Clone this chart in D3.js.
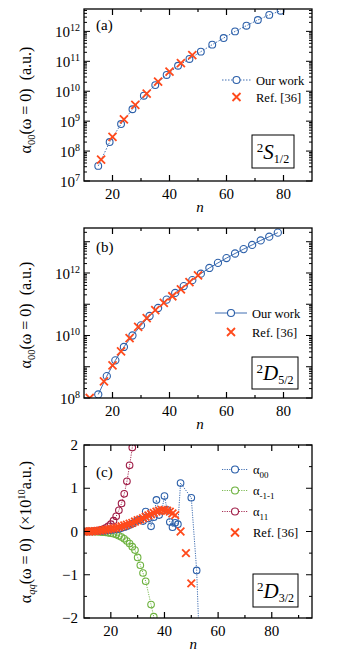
<!DOCTYPE html>
<html>
<head>
<meta charset="utf-8">
<script src="https://cdn.jsdelivr.net/npm/d3@7/dist/d3.min.js"></script>
<style>
body{margin:0;background:#fff;}
svg{display:block;font-family:"Liberation Serif","DejaVu Serif",serif;}
</style>
</head>
<body>
<svg width="349" height="669"></svg>
<script>
// ---- panel (a): 2S1/2
var nA = [15,19,23,27,31,35,39,43,47,51,55,59,63,67,71,75,79];
var alphaA = [3.2e7,2.0e8,8.0e8,2.5e9,7.1e9,1.6e10,3.5e10,7.1e10,1.2e11,2.1e11,3.6e11,6.0e11,1.0e12,1.55e12,2.4e12,3.55e12,4.9e12];
var nRefA = [16,20,24,28,32,36,40,44,48];
var refA = [5.2e7,3.0e8,1.15e9,3.5e9,8.3e9,2.1e10,4.5e10,8.7e10,1.6e11];

// ---- panel (b): 2D5/2
var nB = [15,18,21,24,27,30,33,36,39,42,45,48,51,54,57,60,63,66,69,72,75,78];
var alphaB = [1.3e8,5.0e8,1.6e9,4.3e9,1.0e10,2.1e10,4.2e10,7.6e10,1.4e11,2.3e11,3.8e11,5.9e11,9.5e11,1.45e12,2.1e12,3.0e12,4.2e12,5.8e12,7.9e12,1.1e13,1.45e13,1.95e13];
var nRefB = [12,17,20,23,26,29,32,35,38,41,44,47,50];
var refB = [1.0e8,3.4e8,1.1e9,3.1e9,8.3e9,1.9e10,3.6e10,6.5e10,1.1e11,1.8e11,3.0e11,5.1e11,8.4e11];

// ---- panel (c): 2D3/2, units of 1e10 a.u.
var nC00 = [10,11,12,13,14,15,16,17,18,19,20,21,22,23,24,25,26,27,28,29,30,31,32,33,34,35,36,37,38,39,40,41,42,43,44,45,46,50,52,53];
var alpha00C = [0,0,0,0,0.005,0.01,0.01,0.015,0.02,0.03,0.035,0.04,0.05,0.06,0.08,0.1,0.12,0.15,0.18,0.22,0.26,0.28,0.24,0.46,0.3,0.12,0.33,0.73,0.38,0.48,0.82,0.5,0.22,0.1,0.2,0.17,1.12,0.78,-0.9,-2.6];
var nCm = [10,11,12,13,14,15,16,17,18,19,20,21,22,23,24,25,26,27,28,29,30,31,32,33,35,36,37];
var alphaM1C = [0,0,0,0,-0.003,-0.005,-0.01,-0.015,-0.02,-0.03,-0.04,-0.05,-0.07,-0.1,-0.13,-0.17,-0.22,-0.28,-0.35,-0.43,-0.6,-0.78,-0.96,-1.15,-1.69,-1.97,-2.6];
var nCp = [10,11,12,13,14,15,16,17,18,19,20,21,22,23,24,25,26,27,28,29];
var alpha11C = [0,0,0,0,0.01,0.02,0.03,0.05,0.08,0.12,0.17,0.25,0.35,0.49,0.65,0.87,1.16,1.53,1.94,2.5];
var nRefC = [10,11,12,13,14,15,16,17,18,19,20,21,22,23,24,25,26,27,28,29,30,31,32,33,34,35,36,37,38,39,40,41,42,43,44,46,48,50];
var refC = [0,0,0,0.005,0.01,0.015,0.02,0.03,0.04,0.05,0.06,0.07,0.08,0.1,0.12,0.14,0.16,0.18,0.2,0.23,0.26,0.28,0.31,0.34,0.37,0.4,0.43,0.46,0.48,0.5,0.5,0.48,0.46,0.42,0.38,0.0,-0.5,-1.2];

var xTicksMajor = [20,40,60,80];
var xTicksMinor = [30,50,70];
var linTicks = [-2,-1,0,1,2];

var BLUE = "#2b5fa9", RED = "#ff4a1c", GREEN = "#6db23f", MAROON = "#9e1a44";

var svg = d3.select("svg");
var L = 84, R = 312;

var supTen = function(sel, p){
	sel.text("10");
	sel.append("tspan").attr("dy",-6).attr("font-size","10px").text(p);
};

var frame = function(g, x, y, top, bottom, xMinor){
	g.append("rect").attr("x",L).attr("y",top).attr("width",R-L).attr("height",bottom-top)
		.attr("fill","none").attr("stroke","#000").attr("stroke-width",1.3);
	xTicksMajor.forEach(function(t){
		g.append("line").attr("x1",x(t)).attr("x2",x(t)).attr("y1",bottom).attr("y2",bottom-6).attr("stroke","#000").attr("stroke-width",1.2);
		g.append("line").attr("x1",x(t)).attr("x2",x(t)).attr("y1",top).attr("y2",top+6).attr("stroke","#000").attr("stroke-width",1.2);
		g.append("text").attr("x",x(t)).attr("y",bottom+18).attr("text-anchor","middle").attr("font-size","15px").text(t);
	});
	xMinor.forEach(function(t){
		g.append("line").attr("x1",x(t)).attr("x2",x(t)).attr("y1",bottom).attr("y2",bottom-3).attr("stroke","#000").attr("stroke-width",1.2);
		g.append("line").attr("x1",x(t)).attr("x2",x(t)).attr("y1",top).attr("y2",top+3).attr("stroke","#000").attr("stroke-width",1.2);
	});
	g.append("text").attr("x",x(50)+2).attr("y",bottom+31).attr("text-anchor","middle")
		.attr("font-size","15px").attr("font-style","italic").text("n");
};

var logTicks = function(g, y, labelEvery){
	var d = y.domain();
	var lo = Math.floor(Math.log10(d[0])), hi = Math.ceil(Math.log10(d[1]));
	for(var e=lo; e<=hi; e++){
		for(var m=1; m<10; m++){
			var v = m*Math.pow(10,e);
			if(v < d[0]*0.999 || v > d[1]) continue;
			var len = m==1 ? 6 : 3;
			g.append("line").attr("x1",L).attr("x2",L+len).attr("y1",y(v)).attr("y2",y(v)).attr("stroke","#000").attr("stroke-width",1);
			g.append("line").attr("x1",R).attr("x2",R-len).attr("y1",y(v)).attr("y2",y(v)).attr("stroke","#000").attr("stroke-width",1);
			if(m==1 && (e % labelEvery)==0){
				g.append("text").attr("x",L-4).attr("y",y(v)+6).attr("text-anchor","end").attr("font-size","15px")
					.call(supTen, e);
			}
		}
	}
};

var circles = function(g, x, y, ns, vs, color, dash, r){
	var pts = ns.map(function(n,i){return [n, vs[i]];});
	var line = d3.line().x(function(d){return x(d[0]);}).y(function(d){return y(d[1]);});
	g.append("path").attr("d",line(pts)).attr("fill","none").attr("stroke",color)
		.attr("stroke-width",0.9).attr("stroke-dasharray",dash);
	g.selectAll(null).data(pts).enter().append("circle")
		.attr("cx",function(d){return x(d[0]);}).attr("cy",function(d){return y(d[1]);})
		.attr("r",r).attr("fill","none").attr("stroke",color).attr("stroke-width",1.1);
};

var crosses = function(g, x, y, ns, vs, s){
	var pts = ns.map(function(n,i){return [n, vs[i]];});
	g.selectAll(null).data(pts).enter().append("path")
		.attr("d",function(d){
			var cx = x(d[0]), cy = y(d[1]);
			return "M"+(cx-s)+","+(cy-s)+"L"+(cx+s)+","+(cy+s)+"M"+(cx-s)+","+(cy+s)+"L"+(cx+s)+","+(cy-s);
		})
		.attr("stroke",RED).attr("stroke-width",1.8).attr("fill","none");
};

var clipFor = function(id, top, bottom){
	svg.append("clipPath").attr("id",id).append("rect").attr("x",L).attr("y",top).attr("width",R-L).attr("height",bottom-top);
	return "url(#"+id+")";
};

var boxLabel = function(g, bx, by, bw, bh, letter, sub){
	g.append("rect").attr("x",bx).attr("y",by).attr("width",bw).attr("height",bh).attr("fill","#fff").attr("stroke","#000").attr("stroke-width",1);
	var t = g.append("text").attr("x",bx+bw/2).attr("y",by+bh/2+7).attr("text-anchor","middle").attr("font-size","21px");
	t.append("tspan").attr("font-size","13px").attr("dy",-7).text("2");
	t.append("tspan").attr("font-style","italic").attr("dy",7).text(letter);
	t.append("tspan").attr("font-size","12px").attr("dy",4).text(sub);
};

var yTitle = function(g, cx, cy, sub, subItalic, unitsC){
	var t = g.append("text").attr("transform","translate("+cx+","+cy+") rotate(-90)")
		.attr("text-anchor","middle").attr("font-size","16px");
	t.append("tspan").text("\u03b1");
	t.append("tspan").attr("font-size","10.5px").attr("dy",4).attr("font-style",subItalic?"italic":"normal").text(sub);
	if(unitsC){
		t.append("tspan").attr("dy",-4).text("(\u03c9 = 0)\u00a0\u00a0(\u00d710");
		t.append("tspan").attr("font-size","10.5px").attr("dy",-6).text("10");
		t.append("tspan").attr("dy",6).text("a.u.)");
	}else{
		t.append("tspan").attr("dy",-4).text("(\u03c9 = 0)\u00a0\u00a0(a.u.)");
	}
};

var legendRow = function(g, x1, x2, yy, color, dash, label, sub){
	if(color){
		g.append("line").attr("x1",x1).attr("x2",x2).attr("y1",yy).attr("y2",yy).attr("stroke",color).attr("stroke-width",0.9).attr("stroke-dasharray",dash);
		g.append("circle").attr("cx",(x1+x2)/2).attr("cy",yy).attr("r",3.5).attr("fill","#fff").attr("stroke",color).attr("stroke-width",1.1);
	}else{
		var cx=(x1+x2)/2, s=4;
		g.append("path").attr("d","M"+(cx-s)+","+(yy-s)+"L"+(cx+s)+","+(yy+s)+"M"+(cx-s)+","+(yy+s)+"L"+(cx+s)+","+(yy-s))
			.attr("stroke",RED).attr("stroke-width",1.8);
	}
	var t = g.append("text").attr("x",x2+5).attr("y",yy+4.5).attr("font-size","12.5px").text(label);
	if(sub) t.append("tspan").attr("font-size","9px").attr("dy",4).text(sub);
};

// ================= panel (a)
(function(){
	var top = 9, bottom = 181;
	var g = svg.append("g");
	var x = d3.scaleLinear().domain([10,90]).range([L,R]);
	var y = d3.scaleLog().domain([1e7,5.6e12]).range([bottom,top]);
	var cp = clipFor("clipA", top, bottom);
	var d = g.append("g").attr("clip-path",cp);
	circles(d, x, y, nA, alphaA, BLUE, "1.5,1.5", 3.4);
	crosses(d, x, y, nRefA, refA, 4);
	frame(g, x, y, top, bottom, xTicksMinor);
	logTicks(g, y, 1);
	yTitle(g, 31, 100, "00", false, false);
	g.append("text").attr("x",96).attr("y",30).attr("font-size","15px").text("(a)");
	legendRow(g, 222, 251, 80, BLUE, "1.5,1.5", "Our work");
	legendRow(g, 222, 251, 97, null, null, "Ref. [36]");
	boxLabel(g, 252, 135, 42, 33, "S", "1/2");
})();

// ================= panel (b)
(function(){
	var top = 228, bottom = 398;
	var g = svg.append("g");
	var x = d3.scaleLinear().domain([10,90]).range([L,R]);
	var y = d3.scaleLog().domain([1e8,2.75e13]).range([bottom,top]);
	var cp = clipFor("clipB", top, bottom);
	var d = g.append("g").attr("clip-path",cp);
	circles(d, x, y, nB, alphaB, BLUE, null, 3.6);
	crosses(d, x, y, nRefB, refB, 4);
	frame(g, x, y, top, bottom, xTicksMinor);
	logTicks(g, y, 2);
	yTitle(g, 31, 315, "00", false, false);
	g.append("text").attr("x",96).attr("y",252).attr("font-size","15px").text("(b)");
	legendRow(g, 215, 247, 313, BLUE, null, "Our work");
	legendRow(g, 215, 247, 332, null, null, "Ref. [36]");
	boxLabel(g, 252, 357, 46, 32, "D", "5/2");
})();

// ================= panel (c)
(function(){
	var top = 445, bottom = 618;
	var g = svg.append("g");
	var x = d3.scaleLinear().domain([10,95]).range([L,R]);
	var y = d3.scaleLinear().domain([-2,2]).range([bottom,top]);
	var cp = clipFor("clipC", top, bottom);
	var d = g.append("g").attr("clip-path",cp);
	circles(d, x, y, nCp, alpha11C, MAROON, "1.2,1.2", 3.3);
	circles(d, x, y, nCm, alphaM1C, GREEN, "1.2,1.2", 3.3);
	circles(d, x, y, nC00, alpha00C, BLUE, "1.2,1.2", 3.3);
	crosses(d, x, y, nRefC, refC, 3.8);
	frame(g, x, y, top, bottom, [30,50,70,90]);
	d3.range(-2,2.01,0.5).forEach(function(v){
		var len = Number.isInteger(v) ? 6 : 3;
		g.append("line").attr("x1",L).attr("x2",L+len).attr("y1",y(v)).attr("y2",y(v)).attr("stroke","#000");
		g.append("line").attr("x1",R).attr("x2",R-len).attr("y1",y(v)).attr("y2",y(v)).attr("stroke","#000");
	});
	linTicks.forEach(function(v){
		g.append("text").attr("x",L-6).attr("y",y(v)+5).attr("text-anchor","end").attr("font-size","15px")
			.text(v<0 ? "\u2212"+(-v) : v);
	});
	yTitle(g, 31, 532, "qq", true, true);
	g.append("text").attr("x",96).attr("y",477).attr("font-size","15px").text("(c)");
	legendRow(g, 222, 248, 469.5, BLUE, "1.2,1.2", "\u03b1", "00");
	legendRow(g, 222, 248, 490.5, GREEN, "1.2,1.2", "\u03b1", "-1-1");
	legendRow(g, 222, 248, 511.5, MAROON, "1.2,1.2", "\u03b1", "11");
	legendRow(g, 222, 248, 532.5, null, null, "Ref. [36]");
	boxLabel(g, 253, 574, 45, 33, "D", "3/2");
})();
</script>
</body>
</html>
